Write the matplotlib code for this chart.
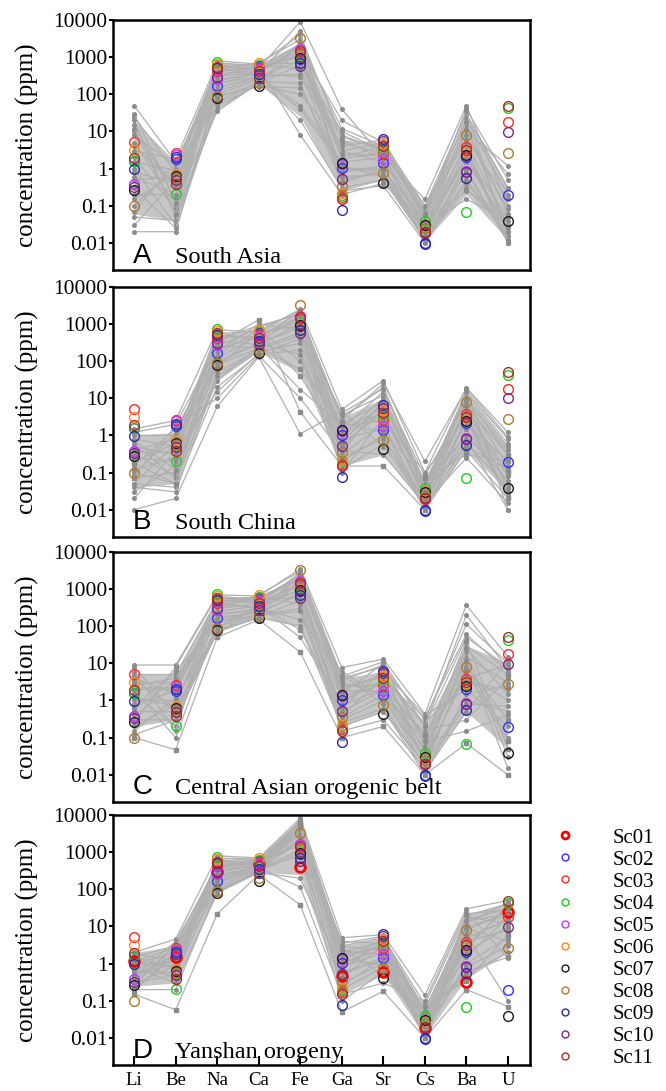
import matplotlib.pyplot as plt
from matplotlib.lines import Line2D
from matplotlib.ticker import FixedLocator, FuncFormatter, NullLocator

plt.rcParams["font.family"] = ["Liberation Serif", "DejaVu Serif"]

elements = ["Li", "Be", "Na", "Ca", "Fe", "Ga", "Sr", "Cs", "Ba", "U"]
panel_letters = ["A", "B", "C", "D"]
panel_names = ["South Asia", "South China", "Central Asian orogenic belt", "Yanshan orogeny"]

# study samples (same in every panel, Sc01 only in Yanshan panel)
sc_names = ["Sc01", "Sc02", "Sc03", "Sc04", "Sc05", "Sc06", "Sc07", "Sc08", "Sc09", "Sc10", "Sc11"]
sc_colors = ["#ff0000", "#3030ff", "#ff2a2a", "#22cc22", "#c833ff", "#ff8c1a",
             "#1a1a1a", "#b07830", "#2b2ba0", "#7a2a7a", "#b02a2a"]
nan = float("nan")
sc01 = [1.15, 1.5, 300, 485, 410, 0.47, 0.61, 0.019, 0.33, 24]
sc02 = [1.6, 1.8, 166, 580, 870, 1.04, 1.4, 0.0094, 2.1, 0.19]
sc03 = [5.1, 2.6, 420, 520, 1320, 0.17, 2.6, 0.019, 3.8, 17.7]
sc04 = [1.6, 0.21, 736, 630, 1100, 0.2, 3.4, 0.039, 0.069, 42]
sc05 = [0.39, 2.4, 267, 480, 1620, 1.3, 1.8, 0.03, 0.84, nan]
sc06 = [3.1, 0.73, 650, 680, 1000, 0.22, 4.7, 0.031, 3.0, nan]
sc07 = [0.27, 0.62, 80, 170, 950, 1.4, 0.42, 0.03, 2.4, 0.039]
sc08 = [0.10, 0.55, 89, 205, 3340, 0.35, 0.76, 0.025, 7.9, 2.7]
sc09 = [0.97, 2.0, 520, 350, 700, 0.078, 6.4, 0.01, 0.56, nan]
sc10 = [0.33, 0.5, 300, 280, 570, 0.53, 5.5, 0.02, 0.8, 9.9]
sc11 = [1.9, 0.39, 560, 420, 1500, 0.15, 4.0, 0.02, 3.2, 50]
sc_values = [sc01, sc02, sc03, sc04, sc05, sc06, sc07, sc08, sc09, sc10, sc11]

# literature samples, one row per sample
south_asia = [
    [50, 1.5, 300, 400, 2000, 3, 1.5, 0.03, 2, 0.05],
    [25, 0.8, 600, 500, 9000, 40, 2, 0.15, 50, 0.1],
    [20, 0.05, 40, 200, 1500, 20, 5, 0.1, 30, 0.3],
    [10, 0.3, 500, 700, 3000, 8, 3, 0.05, 15, 0.02],
    [5, 0.1, 200, 300, 800, 1, 1, 0.02, 5, 0.03],
    [3, 1.8, 700, 600, 500, 0.5, 0.8, 0.015, 1, 0.01],
    [1, 0.03, 100, 250, 20, 0.3, 0.5, 0.012, 0.3, 0.02],
    [0.5, 0.6, 80, 200, 2500, 2, 4, 0.04, 10, 1.2],
    [0.2, 0.2, 350, 450, 1200, 0.8, 1.2, 0.01, 0.5, 0.015],
    [0.1, 1.0, 50, 180, 100, 5, 2.5, 0.08, 20, 0.2],
    [0.05, 0.04, 400, 550, 8, 0.2, 0.4, 0.03, 0.15, 0.04],
    [0.03, 0.5, 250, 350, 300, 4, 6, 0.06, 40, 0.5],
    [0.02, 0.02, 150, 300, 50, 1.5, 2, 0.02, 3, 0.01],
    [15, 0.15, 35, 200, 600, 10, 3, 0.1, 8, 0.08],
    [8, 1.2, 500, 650, 4000, 6, 1.8, 0.025, 12, 0.06],
    [2, 0.08, 650, 400, 1800, 0.6, 0.7, 0.012, 0.8, 0.012],
    [0.8, 0.4, 300, 600, 1000, 3, 5, 0.05, 25, 0.3],
    [0.3, 0.025, 60, 220, 200, 0.4, 1, 0.018, 2, 0.02],
    [0.15, 0.7, 450, 500, 2200, 12, 4, 0.07, 6, 0.15],
    [4, 0.35, 120, 280, 40, 1.2, 0.6, 0.015, 0.4, 0.025],
    [12, 0.06, 800, 650, 700, 2.5, 2.2, 0.035, 4, 0.01],
    [0.07, 1.5, 180, 400, 5000, 0.25, 0.35, 0.01, 1.5, 0.03],
    [30, 0.12, 550, 300, 350, 7, 3.5, 0.09, 18, 0.7],
    [1.5, 0.9, 90, 160, 150, 0.9, 0.9, 0.04, 0.25, 0.05],
    [0.6, 0.2, 220, 420, 1500, 1.8, 2.8, 0.06, 35, 0.012],
]
south_china = [
    [1.5, 2.5, 700, 600, 2500, 5, 30, 0.1, 19, 1.2],
    [1.0, 1.0, 400, 900, 1800, 3, 20, 0.05, 15, 0.8],
    [0.5, 0.3, 200, 500, 1200, 1, 10, 0.03, 10, 0.3],
    [0.3, 0.08, 100, 300, 800, 0.5, 5, 0.02, 5, 0.1],
    [0.1, 0.05, 50, 200, 500, 0.3, 2, 0.015, 3, 0.05],
    [0.05, 0.04, 20, 150, 200, 0.2, 1, 0.01, 1.5, 0.03],
    [0.01, 0.02, 6, 130, 1.1, 4.5, 0.5, 0.02, 0.8, 0.01],
    [0.2, 0.6, 300, 1300, 4.3, 0.15, 0.15, 0.01, 0.4, 0.02],
    [0.03, 0.15, 30, 250, 17, 2, 8, 0.04, 12, 0.5],
    [0.8, 0.5, 500, 400, 2200, 0.1, 3, 0.03, 2, 0.2],
    [0.15, 1.5, 150, 700, 100, 1.5, 15, 0.08, 8, 0.15],
    [0.07, 0.1, 80, 220, 600, 0.8, 1.5, 0.012, 0.6, 0.04],
    [0.4, 0.8, 600, 350, 1500, 2.5, 25, 0.2, 18, 0.9],
    [0.04, 0.03, 40, 180, 300, 0.4, 0.3, 0.015, 0.25, 0.015],
    [1.2, 2.0, 250, 800, 2000, 1.2, 6, 0.06, 4, 0.08],
    [0.25, 0.2, 120, 500, 40, 0.6, 4, 0.025, 6, 0.3],
    [0.6, 0.07, 350, 280, 1000, 3.5, 12, 0.05, 1, 0.06],
    [0.09, 1.2, 70, 600, 900, 0.25, 0.8, 0.02, 14, 0.6],
    [0.02, 0.4, 15, 160, 400, 1.8, 2.5, 0.1, 3, 0.025],
    [0.12, 0.25, 450, 450, 1600, 0.7, 7, 0.035, 0.5, 0.12],
    [0.7, 0.12, 180, 1000, 700, 4, 18, 0.04, 9, 0.4],
    [0.05, 0.6, 90, 300, 150, 0.12, 0.6, 0.013, 2.5, 0.02],
    [0.35, 0.35, 550, 650, 2400, 1, 4.5, 0.018, 7, 0.035],
    [0.18, 0.05, 250, 230, 60, 2.2, 1.2, 0.07, 0.3, 0.2],
    [0.08, 1.8, 10, 140, 10, 0.35, 9, 0.03, 16, 0.01],
]
central_asia = [
    [9, 9, 700, 650, 3500, 7.7, 13, 0.43, 370, 15],
    [5, 5, 500, 500, 2500, 4, 8, 0.3, 113, 10],
    [3, 3, 300, 400, 1500, 2, 5, 0.2, 50, 8],
    [2, 2, 200, 300, 1000, 1, 3, 0.1, 30, 5],
    [1, 1, 150, 250, 700, 0.5, 2, 0.05, 15, 3],
    [0.5, 0.5, 100, 200, 300, 0.3, 1, 0.03, 5, 1],
    [0.3, 0.3, 70, 170, 100, 0.2, 0.5, 0.02, 1, 0.5],
    [0.1, 0.047, 50, 150, 20, 0.1, 0.2, 0.01, 0.07, 0.01],
    [0.2, 0.8, 400, 600, 2000, 3, 1.5, 0.015, 10, 0.1],
    [1.5, 0.2, 250, 350, 50, 0.8, 6, 0.4, 2, 0.2],
    [4, 1.5, 600, 450, 1200, 5, 0.8, 0.012, 0.5, 12],
    [0.7, 6, 120, 280, 2200, 1.5, 10, 0.08, 40, 0.05],
    [8, 0.4, 80, 180, 500, 0.4, 4, 0.25, 3, 2],
    [0.4, 2.5, 350, 550, 1800, 2.5, 2.5, 0.03, 20, 0.03],
    [1.2, 0.7, 450, 300, 150, 6, 1.2, 0.15, 0.3, 4],
    [2.5, 4, 180, 220, 800, 0.6, 7, 0.02, 8, 0.3],
    [0.15, 1.2, 60, 400, 2800, 1.2, 3.5, 0.35, 60, 6],
    [6, 0.15, 550, 600, 400, 0.15, 0.3, 0.015, 0.8, 0.7],
    [0.6, 3.5, 220, 260, 1400, 3.5, 9, 0.06, 25, 1.5],
    [3.5, 0.6, 90, 350, 80, 0.7, 2.2, 0.12, 4, 9],
    [0.25, 8, 650, 500, 600, 2, 4.5, 0.04, 12, 0.015],
    [1.8, 0.1, 130, 200, 250, 0.25, 0.6, 0.01, 1.5, 2.5],
    [0.8, 1.8, 300, 700, 3000, 4.5, 11, 0.2, 200, 7],
    [2.2, 2.2, 380, 320, 1600, 1.8, 1.8, 0.025, 6, 0.08],
    [0.12, 0.3, 500, 420, 900, 0.35, 1.4, 0.08, 0.15, 0.4],
]
yanshan = [
    [2, 4.6, 800, 700, 8300, 5, 6, 0.14, 30, 50],
    [1.5, 3, 500, 600, 6000, 3, 5, 0.08, 20, 40],
    [1, 2, 400, 500, 5000, 2, 4, 0.05, 15, 30],
    [0.7, 1.5, 300, 450, 4000, 1.5, 3, 0.03, 10, 20],
    [0.5, 1, 200, 400, 3000, 1, 2.5, 0.02, 5, 15],
    [0.3, 0.5, 150, 350, 2000, 0.5, 1.5, 0.015, 2, 10],
    [0.2, 0.2, 100, 300, 1000, 0.3, 1, 0.012, 1, 5],
    [0.15, 0.057, 22, 250, 38, 0.05, 0.18, 0.01, 0.2, 0.07],
    [1.2, 0.8, 600, 650, 7000, 2.5, 0.5, 0.04, 0.5, 2],
    [0.4, 2.5, 250, 380, 114, 0.15, 0.3, 0.1, 25, 1.4],
    [0.8, 0.3, 80, 300, 2500, 4, 3.5, 0.025, 3, 35],
    [1.8, 1.2, 450, 550, 6500, 0.8, 2, 0.01, 8, 25],
    [0.25, 3.5, 350, 420, 3500, 1.2, 4.5, 0.06, 12, 45],
    [0.6, 0.6, 700, 650, 1500, 0.2, 0.8, 0.018, 0.8, 3],
    [0.35, 1.8, 120, 320, 4500, 3.5, 5.5, 0.035, 18, 12],
    [1.3, 0.4, 550, 600, 5500, 0.6, 1.2, 0.013, 4, 8],
    [0.18, 2.2, 180, 360, 800, 0.1, 0.6, 0.02, 6, 0.1],
    [0.9, 1.1, 280, 480, 7500, 1.8, 2.8, 0.045, 1.5, 18],
    [0.45, 4, 380, 520, 3000, 0.4, 3.2, 0.011, 22, 28],
    [1.6, 0.7, 650, 450, 6000, 2.2, 1.8, 0.07, 0.35, 6],
    [0.55, 1.3, 90, 280, 200, 0.7, 4, 0.03, 2.5, 38],
    [0.28, 0.9, 420, 580, 4200, 3, 2.2, 0.016, 9, 4],
    [1.1, 2.8, 230, 420, 2200, 1.4, 0.9, 0.025, 14, 22],
    [0.75, 0.45, 520, 380, 5000, 0.9, 3.8, 0.05, 0.6, 1.5],
    [0.22, 1.6, 160, 330, 1200, 0.25, 1.4, 0.014, 4.5, 16],
]
panel_data = [south_asia, south_china, central_asia, yanshan]

# dense core of the grey bundles (low / high per element)
south_asia_lo = [0.06, 0.04, 45, 190, 25, 0.25, 0.5, 0.011, 0.2, 0.012]
south_asia_hi = [20, 1.5, 700, 650, 2500, 6, 5, 0.06, 20, 0.3]
south_china_lo = [0.04, 0.05, 30, 180, 50, 0.15, 0.3, 0.012, 0.4, 0.03]
south_china_hi = [1, 1.2, 500, 700, 2000, 3, 10, 0.06, 12, 0.5]
central_asia_lo = [0.2, 0.3, 70, 180, 100, 0.2, 0.5, 0.015, 0.5, 0.05]
central_asia_hi = [5, 5, 600, 600, 2500, 4, 6, 0.2, 30, 10]
yanshan_lo = [0.25, 0.3, 80, 280, 250, 0.15, 0.5, 0.011, 0.4, 2]
yanshan_hi = [2, 3, 500, 600, 8000, 3, 5, 0.05, 20, 45]
panel_lo = [south_asia_lo, south_china_lo, central_asia_lo, yanshan_lo]
panel_hi = [south_asia_hi, south_china_hi, central_asia_hi, yanshan_hi]

y_ticks = [0.01, 0.1, 1, 10, 100, 1000, 10000]

fig = plt.figure(figsize=(6.66, 10.91), dpi=100)
left, width, height = 0.1697, 0.626, 0.2291
bottoms = [0.7525, 0.508, 0.265, 0.0238]
x = list(range(len(elements)))

for i in range(4):
    ax = fig.add_axes([left, bottoms[i], width, height])
    ax.set_yscale("log")
    ax.set_ylim(0.00186, 10000)
    ax.set_xlim(-0.51, 9.53)

    ax.fill_between(x, panel_lo[i], panel_hi[i], color="#c6c6c6", lw=0, zorder=1)
    for j, row in enumerate(panel_data[i]):
        mk = "s" if (i > 0 and j % 4 == 3) else "o"
        ax.plot(x, row, color="#b0b0b0", lw=0.9, marker=mk, ms=2.6,
                mfc="#8c8c8c", mec="#8c8c8c", zorder=2)

    for k in range(len(sc_names)):
        if k == 0 and i < 3:
            continue
        ax.plot(x, sc_values[k], ls="none", marker="o", ms=7, mfc="none",
                mec=sc_colors[k], mew=2.0 if k == 0 else 1.0, zorder=3)

    ax.yaxis.set_major_locator(FixedLocator(y_ticks))
    ax.yaxis.set_minor_locator(NullLocator())
    ax.yaxis.set_major_formatter(FuncFormatter(lambda v, p: f"{v:g}"))
    ax.tick_params(axis="y", direction="out", length=3, width=1.5, pad=1, labelsize=15.5)
    ax.set_ylabel("concentration (ppm)", fontsize=18, labelpad=10)

    if i == 3:
        ax.set_xticks(x)
        ax.set_xticklabels(elements)
        ax.tick_params(axis="x", direction="in", length=6.5, width=1.5, pad=5, labelsize=13.5)
    else:
        ax.set_xticks([])

    for s in ax.spines.values():
        s.set_linewidth(1.8)

    ax.text(0.048, 0.03, panel_letters[i], transform=ax.transAxes,
            family="Liberation Sans", fontsize=20, ha="left", va="baseline")
    ax.text(0.149, 0.03, panel_names[i], transform=ax.transAxes,
            fontsize=17.5, ha="left", va="baseline")

handles = []
for k in range(len(sc_names)):
    handles.append(Line2D([], [], ls="none", marker="o", ms=5, mfc="none",
                          mec=sc_colors[k], mew=2.0 if k == 0 else 1.0))
fig.legend(handles, sc_names, loc="upper left", bbox_to_anchor=(555 / 666, 1 - 828 / 1091),
           frameon=False, fontsize=15, handlelength=1.0, handletextpad=1.75,
           labelspacing=0.12, borderpad=0, borderaxespad=0)

fig.savefig("out.png", dpi=100)
